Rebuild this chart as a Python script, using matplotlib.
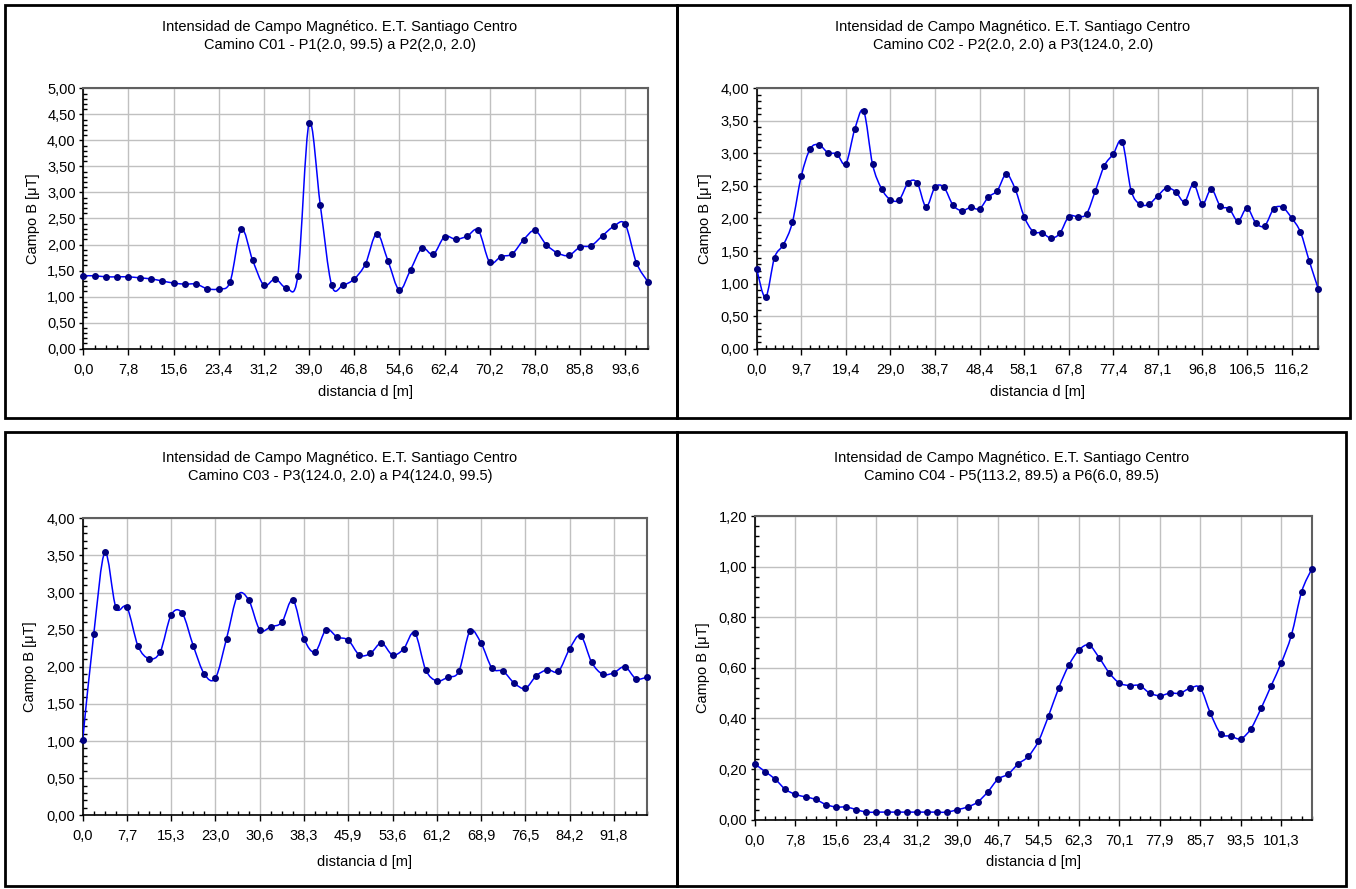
import numpy as np
import matplotlib
matplotlib.use('Agg')
import matplotlib.pyplot as plt
from matplotlib.path import Path
from matplotlib.patches import PathPatch, Rectangle
from matplotlib.ticker import MultipleLocator, FixedLocator, FuncFormatter

plt.rcParams['font.family'] = ['Liberation Sans', 'DejaVu Sans']
plt.rcParams['font.size'] = 10.5

W, H = 1356, 889
FS = 10.5

TITULO = 'Intensidad de Campo Magnético. E.T. Santiago Centro'

# ---------------- Camino C01 ----------------
sub_c01 = 'Camino C01 - P1(2.0, 99.5) a P2(2,0, 2.0)'
b_c01 = [1.40, 1.40, 1.38, 1.38, 1.38, 1.36, 1.34, 1.30, 1.26, 1.24,
         1.24, 1.15, 1.15, 1.28, 2.29, 1.70, 1.22, 1.34, 1.17, 1.40,
         4.33, 2.75, 1.22, 1.22, 1.34, 1.63, 2.21, 1.68, 1.13, 1.52,
         1.93, 1.81, 2.15, 2.10, 2.16, 2.27, 1.66, 1.77, 1.82, 2.09,
         2.27, 2.00, 1.84, 1.79, 1.95, 1.98, 2.17, 2.35, 2.39, 1.65,
         1.29]
ticks_c01 = ['0,0', '7,8', '15,6', '23,4', '31,2', '39,0', '46,8',
             '54,6', '62,4', '70,2', '78,0', '85,8', '93,6']

# ---------------- Camino C02 ----------------
sub_c02 = 'Camino C02 - P2(2.0, 2.0) a P3(124.0, 2.0)'
b_c02 = [1.22, 0.79, 1.40, 1.60, 1.94, 2.65, 3.07, 3.13, 3.01, 2.99,
         2.84, 3.37, 3.65, 2.83, 2.46, 2.29, 2.29, 2.55, 2.55, 2.18,
         2.48, 2.48, 2.21, 2.12, 2.17, 2.15, 2.33, 2.43, 2.68, 2.45,
         2.03, 1.80, 1.78, 1.70, 1.77, 2.03, 2.03, 2.07, 2.43, 2.81,
         2.99, 3.18, 2.43, 2.22, 2.22, 2.35, 2.47, 2.41, 2.26, 2.53,
         2.22, 2.45, 2.19, 2.15, 1.96, 2.16, 1.93, 1.89, 2.15, 2.17,
         2.01, 1.79, 1.34, 0.92]
ticks_c02 = ['0,0', '9,7', '19,4', '29,0', '38,7', '48,4', '58,1',
             '67,8', '77,4', '87,1', '96,8', '106,5', '116,2']

# ---------------- Camino C03 ----------------
sub_c03 = 'Camino C03 - P3(124.0, 2.0) a P4(124.0, 99.5)'
b_c03 = [1.02, 2.44, 3.54, 2.80, 2.80, 2.28, 2.11, 2.20, 2.70, 2.72,
         2.28, 1.90, 1.85, 2.38, 2.96, 2.90, 2.50, 2.54, 2.60, 2.90,
         2.38, 2.20, 2.50, 2.40, 2.36, 2.16, 2.18, 2.32, 2.16, 2.24,
         2.46, 1.96, 1.81, 1.86, 1.94, 2.48, 2.32, 1.98, 1.94, 1.78,
         1.71, 1.88, 1.96, 1.94, 2.24, 2.42, 2.06, 1.90, 1.92, 2.00,
         1.84, 1.86]
ticks_c03 = ['0,0', '7,7', '15,3', '23,0', '30,6', '38,3', '45,9',
             '53,6', '61,2', '68,9', '76,5', '84,2', '91,8']

# ---------------- Camino C04 ----------------
sub_c04 = 'Camino C04 - P5(113.2, 89.5) a P6(6.0, 89.5)'
b_c04 = [0.22, 0.19, 0.16, 0.12, 0.10, 0.09, 0.08, 0.06, 0.05, 0.05,
         0.04, 0.03, 0.03, 0.03, 0.03, 0.03, 0.03, 0.03, 0.03, 0.03,
         0.04, 0.05, 0.07, 0.11, 0.16, 0.18, 0.22, 0.25, 0.31, 0.41,
         0.52, 0.61, 0.67, 0.69, 0.64, 0.58, 0.54, 0.53, 0.53, 0.50,
         0.49, 0.50, 0.50, 0.52, 0.52, 0.42, 0.34, 0.33, 0.32, 0.36,
         0.44, 0.53, 0.62, 0.73, 0.90, 0.99]
ticks_c04 = ['0,0', '7,8', '15,6', '23,4', '31,2', '39,0', '46,7',
             '54,5', '62,3', '70,1', '77,9', '85,7', '93,5', '101,3']


def px(x0, y0, x1, y1):
    # rettangolo in pixel -> coordinate figura
    return [x0 / W, 1 - y1 / H, (x1 - x0) / W, (y1 - y0) / H]


def curva(ax, y, color):
    # linea suavizada tipo Excel (Bezier, Catmull-Rom)
    n = len(y)
    x = np.arange(n)
    verts = [(x[0], y[0])]
    codes = [Path.MOVETO]
    for i in range(n - 1):
        a = max(i - 1, 0)
        d = min(i + 2, n - 1)
        c1 = (x[i] + (x[i + 1] - x[a]) / 6, y[i] + (y[i + 1] - y[a]) / 6)
        c2 = (x[i + 1] - (x[d] - x[i]) / 6, y[i + 1] - (y[d] - y[i]) / 6)
        verts += [c1, c2, (x[i + 1], y[i + 1])]
        codes += [Path.CURVE4] * 3
    ax.add_patch(PathPatch(Path(verts, codes), fill=False,
                           edgecolor=color, lw=1.1, zorder=3))


def pannello(fig, box, dati, etichette, passo, ymax, ymaj, ymin,
             sub, tpos, ylx, xly):
    ax = fig.add_axes(px(*box))
    n = len(dati)
    curva(ax, dati, '#0000ff')
    ax.plot(np.arange(n), dati, 'o', color='#000080', ms=4, zorder=4,
            clip_on=False)
    ax.set_xlim(0, n - 1)
    ax.set_ylim(0, ymax)

    ax.xaxis.set_major_locator(FixedLocator(np.arange(len(etichette)) * passo))
    ax.set_xticklabels(etichette)
    ax.xaxis.set_minor_locator(MultipleLocator(1))
    ax.yaxis.set_major_locator(MultipleLocator(ymaj))
    ax.yaxis.set_minor_locator(MultipleLocator(ymin))
    ax.yaxis.set_major_formatter(
        FuncFormatter(lambda v, p: ('%.2f' % v).replace('.', ',')))

    ax.grid(True, which='major', color='#c0c0c0', lw=1)
    ax.set_axisbelow(True)
    ax.tick_params(which='major', direction='out', length=3, width=1,
                   labelsize=FS, color='black')
    ax.tick_params(axis='x', which='major', length=4, pad=6)
    ax.tick_params(axis='y', which='major', pad=2.5)
    ax.tick_params(which='minor', direction='in', length=3, width=1,
                   color='black')
    for s in ['left', 'bottom']:
        ax.spines[s].set_color('black')
        ax.spines[s].set_linewidth(1.2)
    for s in ['top', 'right']:
        ax.spines[s].set_color('#606060')
        ax.spines[s].set_linewidth(1.5)

    x0, y0, x1, y1 = box
    fig.text(tpos[0] / W, 1 - tpos[1] / H, TITULO,
             ha='center', va='center', fontsize=FS)
    fig.text(tpos[0] / W, 1 - (tpos[1] + 18) / H, sub,
             ha='center', va='center', fontsize=FS)
    fig.text(ylx / W, 1 - ((y0 + y1) / 2) / H, 'Campo B [μT]',
             rotation=90, ha='center', va='center', fontsize=FS)
    fig.text(((x0 + x1) / 2) / W, 1 - xly / H, 'distancia d [m]',
             ha='center', va='center', fontsize=FS)
    return ax


fig = plt.figure(figsize=(W / 100, H / 100), dpi=100)

# cornici dei grafici
for r in [(5, 5, 677, 418), (677, 5, 1350, 418),
          (5, 432, 677, 886), (677, 432, 1346, 886)]:
    fig.add_artist(Rectangle((r[0] / W, 1 - r[3] / H),
                             (r[2] - r[0]) / W, (r[3] - r[1]) / H,
                             transform=fig.transFigure, fill=False,
                             edgecolor='black', lw=2))

pannello(fig, (83.3, 88.3, 647.7, 348.7), b_c01, ticks_c01, 4, 5.0, 0.5, 0.1,
         sub_c01, (340, 27), 33, 392)
pannello(fig, (756.7, 88.3, 1318.3, 348.7), b_c02, ticks_c02, 5, 4.0, 0.5, 0.1,
         sub_c02, (1013, 27), 705, 392)
pannello(fig, (82.7, 518.3, 647, 815.3), b_c03, ticks_c03, 4, 4.0, 0.5, 0.1,
         sub_c03, (340, 458), 30, 862)
pannello(fig, (755, 516, 1311.7, 819.7), b_c04, ticks_c04, 4, 1.2, 0.2, 0.04,
         sub_c04, (1012, 458), 703, 862)

fig.savefig('out.png', dpi=100)
